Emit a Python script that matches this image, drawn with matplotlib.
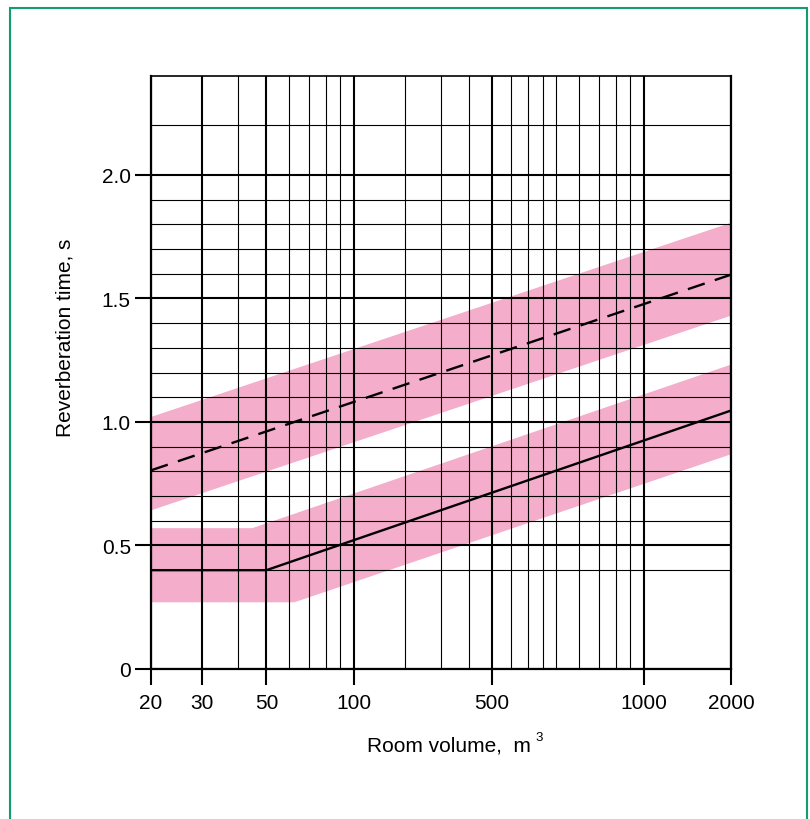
import matplotlib
matplotlib.use("Agg")
import matplotlib.pyplot as plt
from matplotlib.patches import Rectangle

plt.rcParams['font.family'] = ['Liberation Sans', 'DejaVu Sans']

# ---- data ----
solid_x = [20, 50, 2000]
solid_y = [0.40, 0.40, 1.046]

dashed_x = [20, 2000]
dashed_y = [0.804, 1.596]

upper_band_x = [20, 2000]
upper_band_top = [1.02, 1.806]
upper_band_bottom = [0.642, 1.43]

lower_top_x = [20, 44.7, 2000]
lower_top_y = [0.57, 0.57, 1.232]
lower_bottom_x = [20, 62.4, 2000]
lower_bottom_y = [0.27, 0.27, 0.869]

x_major = [20, 30, 50, 100, 300, 1000, 2000]
x_major_labels = ["20", "30", "50", "100", "500", "1000", "2000"]
x_minor = [40, 60, 70, 80, 90, 150, 200, 250, 350, 400, 450, 500, 600, 700, 800, 900]
y_major = [0, 0.5, 1.0, 1.5, 2.0]
y_major_labels = ["0", "0.5", "1.0", "1.5", "2.0"]
y_minor = [0.4, 0.6, 0.7, 0.8, 0.9, 1.1, 1.2, 1.3, 1.4, 1.6, 1.7, 1.8, 1.9, 2.2]

PINK = '#F4ADCB'
FS = 15

fig = plt.figure(figsize=(8.1, 8.2), dpi=100)
ax = fig.add_axes([151/810, 150/820, 580/810, 593/820])
ax.set_xscale('log')
ax.set_xlim(20, 2000)
ax.set_ylim(0, 2.4)

# bands
ax.fill(upper_band_x + upper_band_x[::-1], upper_band_top + upper_band_bottom[::-1],
        color=PINK, lw=0, zorder=1)
ax.fill(lower_top_x + lower_bottom_x[::-1], lower_top_y + lower_bottom_y[::-1],
        color=PINK, lw=0, zorder=1)

# lines
ax.plot(solid_x, solid_y, color='black', lw=1.7, zorder=3, solid_joinstyle='miter')
ax.plot(dashed_x, dashed_y, color='black', lw=1.7, zorder=3, dashes=(7.5, 4.5))

# ticks / grid
ax.set_xticks(x_major)
ax.set_xticklabels(x_major_labels)
ax.set_xticks(x_minor, minor=True)
ax.set_xticklabels([], minor=True)
ax.set_yticks(y_major)
ax.set_yticklabels(y_major_labels)
ax.set_yticks(y_minor, minor=True)

ax.grid(which='major', color='black', lw=1.5, zorder=1.5)
ax.grid(which='minor', color='black', lw=0.8, zorder=1.5)
ax.tick_params(which='major', direction='out', length=11.5, width=1.5,
               labelsize=FS, colors='black')
ax.tick_params(axis='x', which='major', pad=6)
ax.tick_params(axis='y', which='major', pad=3)
ax.tick_params(which='minor', length=0)

for s in ['left', 'right', 'bottom']:
    ax.spines[s].set_linewidth(1.6)
ax.spines['top'].set_linewidth(1.2)

# labels
fig.text(65/810, 1 - 338/820, "Reverberation time, s", rotation=90,
         ha='center', va='center', fontsize=FS)
fig.text(531/810, 1 - 746/820, "Room volume,  m", ha='right', va='center', fontsize=FS)
fig.text(535/810, 1 - 738/820, "3", ha='left', va='center', fontsize=9.5)

# green frame
frame = Rectangle((10/810, -0.05), 797/810, 1.05 - 9/820, transform=fig.transFigure,
                  fill=False, edgecolor='#139C6E', lw=1.5)
fig.patches.append(frame)

fig.savefig('out.png', dpi=100)
